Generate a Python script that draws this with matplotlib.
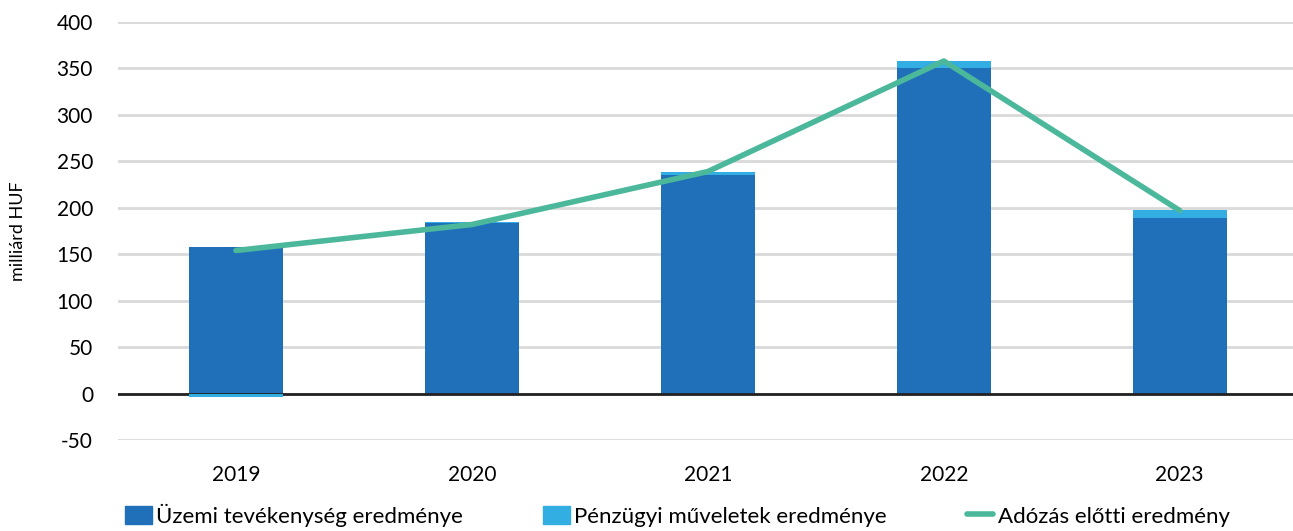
import matplotlib
matplotlib.use('Agg')
import matplotlib.pyplot as plt
import numpy as np
from matplotlib.lines import Line2D
from matplotlib.patches import Patch

years = ['2019', '2020', '2021', '2022', '2023']
uzemi = [158, 184, 235, 350, 189]
penzugyi = [-4, 0.5, 3, 8, 9]
adozas_elotti = [154, 182, 239, 358, 197]

c_dark = '#1f70b8'
c_light = '#33aee3'
c_line = '#4bb89b'

plt.rcParams['font.family'] = ['Lato', 'DejaVu Sans']
plt.rcParams['axes.unicode_minus'] = False

fig = plt.figure(figsize=(12.93, 5.31), dpi=100)
ax = fig.add_axes([118 / 1293, 1 - 440 / 531, 1 - 118 / 1293, (440 - 22) / 531])

x = np.arange(len(years))
w = 0.4
ax.bar(x, uzemi, w, color=c_dark, zorder=2)
# positive parts stack on top, negative parts go below zero
bottoms = [u if p >= 0 else 0 for u, p in zip(uzemi, penzugyi)]
ax.bar(x, penzugyi, w, bottom=bottoms, color=c_light, zorder=5)
ax.plot(x, adozas_elotti, color=c_line, lw=4, solid_capstyle='round', zorder=6)

ax.set_ylim(-50, 400)
ax.set_xlim(-0.5, 4.48)
ax.set_yticks(range(-50, 401, 50))
ax.set_xticks(x, years)
ax.yaxis.grid(True, color='#d9d9d9', lw=2)
ax.set_axisbelow(True)
ax.axhline(0, color='#222222', lw=2, zorder=4)
for s in ax.spines.values():
    s.set_visible(False)
ax.tick_params(length=0, labelsize=15)
ax.tick_params(axis='x', pad=18)
ax.tick_params(axis='y', pad=18)
ax.set_ylabel('milliárd HUF', fontsize=13, labelpad=22)

handles = [Patch(color=c_dark), Patch(color=c_light),
           Line2D([], [], color=c_line, lw=4, solid_capstyle='round')]
labels = ['Üzemi tevékenység eredménye', 'Pénzügyi műveletek eredménye',
          'Adózás előtti eredmény']
fig.legend(handles, labels, loc='center left', bbox_to_anchor=(0.088, 0.03),
           ncol=3, frameon=False, fontsize=16, handlelength=1.2, handleheight=0.9,
           handletextpad=0.2, columnspacing=3.6, borderpad=0)

fig.savefig('out.png', dpi=100)
